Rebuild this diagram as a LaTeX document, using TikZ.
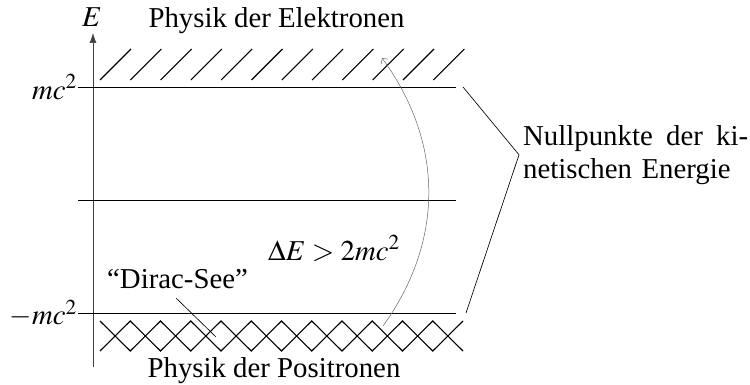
\documentclass[tikz,border=0pt]{standalone}
\usepackage{mathptmx}
\usepackage{fontspec}
\setmainfont{Liberation Serif}
\usetikzlibrary{arrows.meta}
\begin{document}
\begin{tikzpicture}[x=1pt,y=-1pt,
  font=\fontsize{28.8}{33}\selectfont,
  lbl/.style={inner sep=0pt},
  level/.style={line width=0.75pt, black},
  axisline/.style={line width=0.6pt, black!75, -{Latex[length=10pt,width=7pt]}},
  hatch/.style={line width=1.1pt, line join=miter},
  curv/.style={line width=0.5pt, black!60, -{Straight Barb[length=4.2pt,width=8.5pt]}},
  ptr/.style={line width=0.65pt}]
\useasboundingbox (0,0) rectangle (750,385);
% axis
\coordinate (ax0) at (93,367);
\coordinate (ax1) at (93,33);
\draw[axisline] (ax0) -- (ax1);
\node[lbl, anchor=base] (E) at (92,27) {$E$};
% levels
\coordinate (up0) at (78,87);    \coordinate (up1) at (456,87);
\coordinate (mid0) at (78,200.5); \coordinate (mid1) at (456,200.5);
\coordinate (lo0) at (78,313.5); \coordinate (lo1) at (456,313.5);
\draw[level] (up0) -- (up1);
\draw[level] (mid0) -- (mid1);
\draw[level] (lo0) -- (lo1);
\node[lbl, anchor=east] (mc) at ([xshift=-1pt]up0) {$mc^2$};
\node[lbl, anchor=east] (mmc) at ([xshift=-1pt]lo0) {$-mc^2$};
% hatching electrons
\foreach \i in {0,...,11} \draw[hatch] (100+30.3*\i,80) -- ++(31,-31);
% cross hatching positrons
\draw[hatch] (100,321) \foreach \i in {0,2,...,10} { -- ++(30.25,30) -- ++(30.25,-30) };
\draw[hatch] (100,351) \foreach \i in {0,2,...,10} { -- ++(30.25,-30) -- ++(30.25,30) };
% texts
\node[lbl, anchor=base] (el) at (276.5,28) {Physik der Elektronen};
\node[lbl, anchor=base] (po) at (274,377) {Physik der Positronen};
\node[lbl, anchor=base west] (dE) at (268,260) {$\Delta E > 2mc^2$};
\node[lbl, anchor=base west] (ds) at (107,288) {``Dirac-See''};
\coordinate (ds0) at (176,298); \coordinate (ds1) at (216,337);
\draw[ptr] (ds0) -- (ds1);
% curved arrow
\coordinate (c0) at (383,326); \coordinate (c1) at (382,58);
\draw[curv] (c0) to[bend right=36] (c1);
% Nullpunkte
\node[inner sep=4pt, anchor=west, text width=225pt, align=left] (nk) at (519,154.8)
  {Nullpunkte\hfill der\hfill ki-\\netischen Energie};
\coordinate (b1) at (463,87); \coordinate (b2) at (466,313);
\draw[ptr] (b1) -- (nk.west) -- (b2);
\end{tikzpicture}
\end{document}
